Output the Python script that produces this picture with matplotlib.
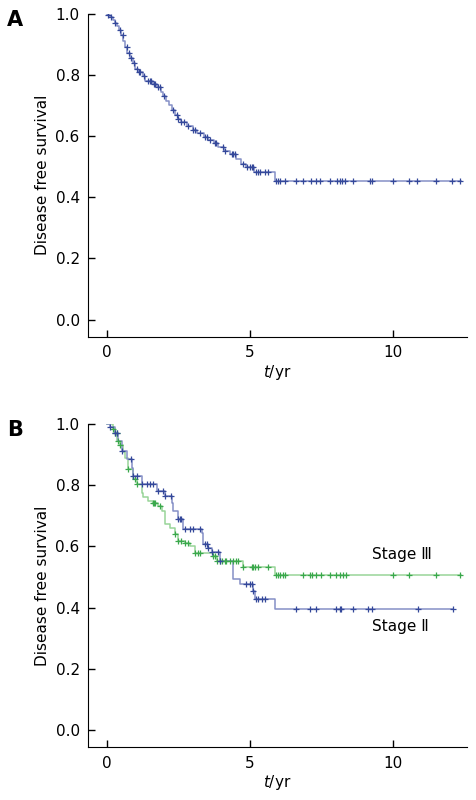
import numpy as np
import matplotlib
matplotlib.use("Agg")
import matplotlib.pyplot as plt

plt.rcParams['font.family'] = ['DejaVu Sans', 'Noto Sans CJK SC']

# Panel A: all patients (step times / survival after each step)
a_time = [0, 0.05, 0.12, 0.2, 0.28, 0.35, 0.42, 0.5, 0.58, 0.65, 0.72, 0.8, 0.9, 0.98,
          1.1, 1.25, 1.32, 1.6, 1.75, 1.88, 1.98, 2.08, 2.18, 2.28, 2.38, 2.5, 2.6, 2.8,
          3.0, 3.15, 3.4, 3.55, 3.75, 3.9, 4.1, 4.3, 4.5, 4.7, 4.85, 5.15, 5.88, 12.4]
a_surv = [1.0, 0.995, 0.99, 0.98, 0.97, 0.96, 0.945, 0.93, 0.91, 0.89, 0.87, 0.855, 0.84, 0.82,
          0.81, 0.795, 0.78, 0.77, 0.76, 0.745, 0.73, 0.715, 0.70, 0.685, 0.67, 0.655, 0.645, 0.632,
          0.62, 0.61, 0.598, 0.588, 0.576, 0.565, 0.552, 0.54, 0.525, 0.51, 0.498, 0.484, 0.454, 0.454]
a_cens = [0.05, 0.15, 0.3, 0.45, 0.55, 0.7, 0.78, 0.85, 0.95, 1.05, 1.12, 1.15, 1.3, 1.45, 1.5,
          1.55, 1.65, 1.7, 1.8, 1.85, 2.0, 2.3, 2.45, 2.5, 2.6, 2.7, 2.85, 3.0, 3.1, 3.25,
          3.43, 3.49, 3.6, 3.78, 3.83, 4.07, 4.13, 4.36, 4.41, 4.47, 4.77, 4.89, 5.0, 5.06,
          5.12, 5.23, 5.29, 5.35, 5.52, 5.64, 5.93, 6.0, 6.07, 6.22, 6.63, 6.86, 7.13, 7.33,
          7.47, 7.8, 8.05, 8.17, 8.24, 8.32, 8.61, 9.2, 9.26, 10.01, 10.57, 10.86, 11.52,
          12.07, 12.34]

# Panel B: Stage II
b2_time = [0, 0.1, 0.28, 0.4, 0.52, 0.7, 0.87, 0.9, 1.22, 1.74, 2.03, 2.27, 2.31, 2.5,
           2.66, 3.32, 3.37, 3.54, 3.66, 3.95, 4.41, 4.42, 4.65, 5.11, 5.17, 5.87, 12.1]
b2_surv = [1.0, 0.99, 0.97, 0.945, 0.913, 0.885, 0.857, 0.83, 0.805, 0.782, 0.766, 0.743, 0.716, 0.69,
           0.658, 0.644, 0.608, 0.595, 0.583, 0.552, 0.526, 0.494, 0.476, 0.454, 0.428, 0.394, 0.394]
b2_cens = [0.1, 0.28, 0.34, 0.52, 0.86, 0.92, 1.04, 1.22, 1.39, 1.5, 1.62, 1.8, 1.97, 2.03,
           2.26, 2.5, 2.55, 2.61, 2.73, 2.9, 3.02, 3.25, 3.43, 3.49, 3.54, 3.66, 3.89, 3.95,
           4.88, 5.0, 5.06, 5.12, 5.23, 5.29, 5.41, 5.52, 6.63, 7.1, 7.33, 8.03, 8.15, 8.2,
           8.61, 9.14, 9.26, 10.88, 12.11]

# Panel B: Stage III
b3_time = [0, 0.2, 0.28, 0.35, 0.45, 0.55, 0.63, 0.73, 0.9, 1.04, 1.22, 1.26, 1.43, 1.6,
           1.78, 1.92, 2.03, 2.2, 2.38, 2.5, 2.73, 2.9, 3.08, 3.71, 3.84, 4.77, 5.87, 12.4]
b3_surv = [1.0, 0.985, 0.97, 0.946, 0.93, 0.91, 0.89, 0.854, 0.82, 0.805, 0.776, 0.76, 0.75, 0.743,
           0.733, 0.716, 0.674, 0.66, 0.64, 0.618, 0.612, 0.6, 0.58, 0.568, 0.552, 0.533, 0.507, 0.507]
b3_cens = [0.22, 0.28, 0.34, 0.4, 0.46, 0.75, 0.98, 1.04, 1.62, 1.64, 1.68, 1.85, 2.38, 2.5,
           2.61, 2.73, 2.84, 3.08, 3.2, 3.25, 3.72, 3.78, 3.84, 3.95, 4.01, 4.13, 4.18, 4.3,
           4.42, 4.53, 4.59, 4.77, 5.06, 5.12, 5.17, 5.29, 5.64, 5.93, 5.99, 6.05, 6.16, 6.22,
           6.86, 7.1, 7.16, 7.33, 7.5, 7.8, 8.03, 8.15, 8.26, 8.38, 10.01, 10.57, 11.53, 12.34]

blue_line, blue_mark = '#8590c6', '#34489a'
green_line, green_mark = '#98d498', '#3aa84c'


def km(ax, t, s, cens, lc, mc):
    t = np.array(t)
    s = np.array(s)
    ax.step(t, s, where='post', color=lc, lw=1.1, zorder=2)
    c = np.array(cens)
    idx = np.searchsorted(t, c, side='right') - 1
    ax.plot(c, s[idx], ls='none', marker='+', ms=5, mew=0.9, color=mc, zorder=3)


def style(ax, letter):
    ax.set_xlim(-0.66, 12.6)
    ax.set_ylim(-0.056, 1.0)
    ax.spines['top'].set_visible(False)
    ax.spines['right'].set_visible(False)
    ax.set_xticks([0, 5, 10])
    ax.set_yticks([0.0, 0.2, 0.4, 0.6, 0.8, 1.0])
    ax.set_yticklabels(['0.0', '0.2', '0.4', '0.6', '0.8', '1.0'])
    ax.tick_params(direction='in', length=5, width=1, labelsize=11, pad=6)
    ax.set_ylabel('Disease free survival', fontsize=11, labelpad=4)
    ax.set_xlabel(r'$\mathit{t}$/yr', fontsize=11, labelpad=2)
    ax.text(-0.193, 0.98, letter, transform=ax.transAxes, fontsize=15,
            fontweight='bold', ha='center', va='center')


fig = plt.figure(figsize=(4.76, 8), dpi=100)
axA = fig.add_axes([0.185, 0.579, 0.796, 0.404])
axB = fig.add_axes([0.185, 0.066, 0.796, 0.404])

km(axA, a_time, a_surv, a_cens, blue_line, blue_mark)
style(axA, 'A')

km(axB, b3_time, b3_surv, b3_cens, green_line, green_mark)
km(axB, b2_time, b2_surv, b2_cens, blue_line, blue_mark)
style(axB, 'B')
axB.text(9.27, 0.572, 'Stage \u2162', fontsize=11, va='center', ha='left')
axB.text(9.27, 0.339, 'Stage \u2161', fontsize=11, va='center', ha='left')

fig.savefig('out.png', dpi=100)
